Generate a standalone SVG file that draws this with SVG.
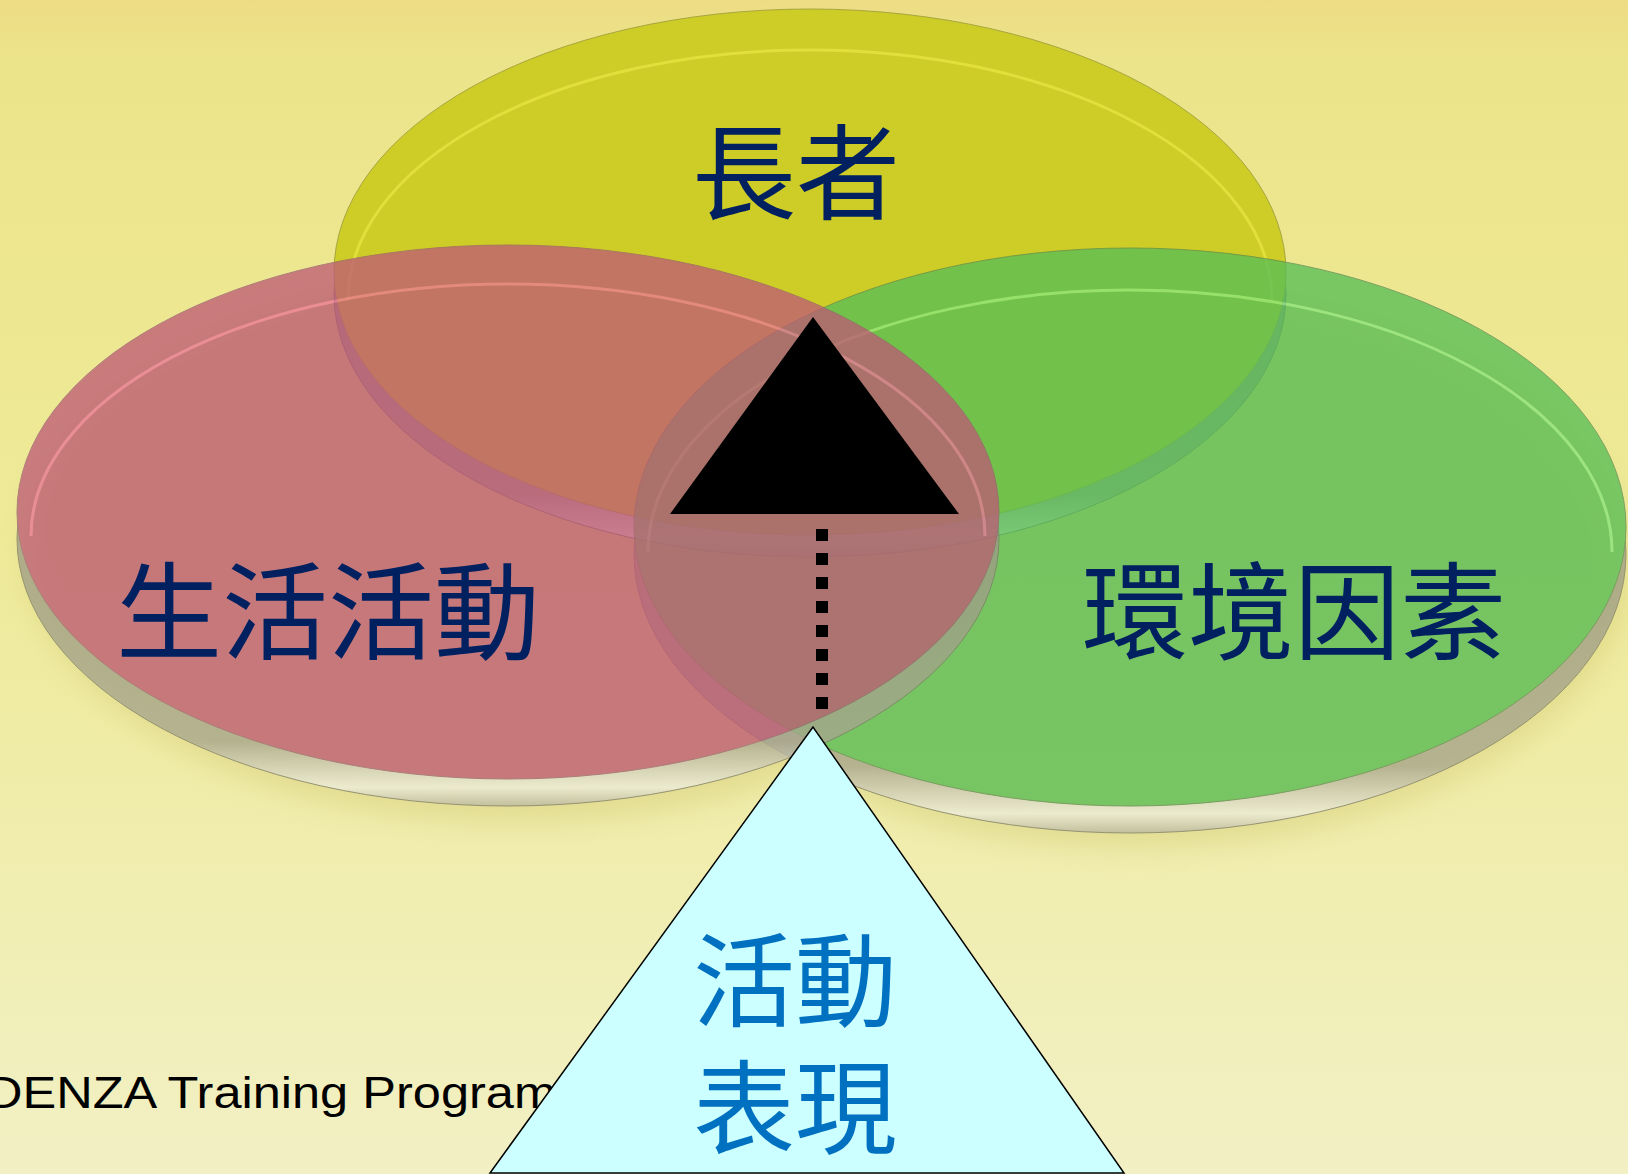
<svg xmlns="http://www.w3.org/2000/svg" width="1628" height="1174" viewBox="0 0 1628 1174">
<defs>
<linearGradient id="bg" x1="0" y1="0" x2="0" y2="1">
<stop offset="0" stop-color="#EDDC84"/>
<stop offset="0.05" stop-color="#ECE48A"/>
<stop offset="0.45" stop-color="#EEEA98"/>
<stop offset="1" stop-color="#F2F0C4"/>
</linearGradient>
<linearGradient id="rim" x1="0" y1="0" x2="0" y2="1">
<stop offset="0" stop-color="#8E8C78"/>
<stop offset="0.88" stop-color="#A8A690"/>
<stop offset="0.965" stop-color="#F0F0E2"/>
<stop offset="1" stop-color="#B8B6A0"/>
</linearGradient>
<filter id="blur" x="-20%" y="-20%" width="140%" height="140%"><feGaussianBlur stdDeviation="14"/></filter>
<style>
.lbl{font-family:"Noto Sans CJK TC","Noto Sans CJK SC",sans-serif;fill:#002060;text-anchor:middle}
.tri{font-family:"Noto Sans CJK TC","Noto Sans CJK SC",sans-serif;fill:#0070C0;text-anchor:middle;font-size:102px}
.rimE{fill:url(#rim);stroke:#7C7A66;stroke-width:1}
.hl{fill:none;stroke-width:3}
</style>
</defs>
<rect x="0" y="0" width="1628" height="1174" fill="url(#bg)"/>
<g opacity="0.35" filter="url(#blur)">
<ellipse cx="515" cy="550" rx="490" ry="272" fill="#C8BE60"/>
<ellipse cx="1135" cy="565" rx="494" ry="282" fill="#C8BE60"/>
</g>
<g id="node-yellow">
<ellipse class="rimE" cx="810" cy="294" rx="476" ry="263"/>
<ellipse cx="810" cy="272" rx="476" ry="263" fill="#CECC26" stroke="#A8A640" stroke-width="1"/>
<path class="hl" d="M348,300 A462,250 0 0 1 1272,300" stroke="#F2EE50" stroke-opacity="0.55"/>
</g>
<g id="node-green" opacity="0.76">
<ellipse class="rimE" cx="1130" cy="554" rx="496" ry="279"/>
<ellipse cx="1130" cy="527" rx="496" ry="279" fill="#56BE56" stroke="#5A8A50" stroke-width="1"/>
<path class="hl" d="M648,552 A482,262 0 0 1 1612,552" stroke="#9CF890" stroke-opacity="0.7"/>
</g>
<g id="node-pink" opacity="0.76">
<ellipse class="rimE" cx="508" cy="539" rx="491" ry="267"/>
<ellipse cx="508" cy="512" rx="491" ry="267" fill="#BE5A76" stroke="#9A6070" stroke-width="1"/>
<path class="hl" d="M31,536 A477,252 0 0 1 985,536" stroke="#FF80A8" stroke-opacity="0.7"/>
</g>
<text class="lbl" x="796" y="212" font-size="104">長者</text>
<text class="lbl" x="328" y="651" font-size="106">生活活動</text>
<text class="lbl" x="1294" y="651" font-size="106">環境因素</text>
<g id="connectors">
<polygon points="813,317 670,514 959,514" fill="#000"/>
<line x1="822" y1="529" x2="822" y2="711" stroke="#000" stroke-width="12" stroke-dasharray="12 12"/>
</g>
<text x="-14" y="1108" font-family="Liberation Sans, sans-serif" font-size="44" fill="#000" textLength="570" lengthAdjust="spacingAndGlyphs">DENZA Training Program</text>
<g id="node-performance">
<polygon points="813,727 490,1173 1124,1173" fill="#CCFFFF" stroke="#000" stroke-width="1.5"/>
<text class="tri" x="795" y="1019">活動</text>
<text class="tri" x="795" y="1146">表現</text>
</g>
</svg>
